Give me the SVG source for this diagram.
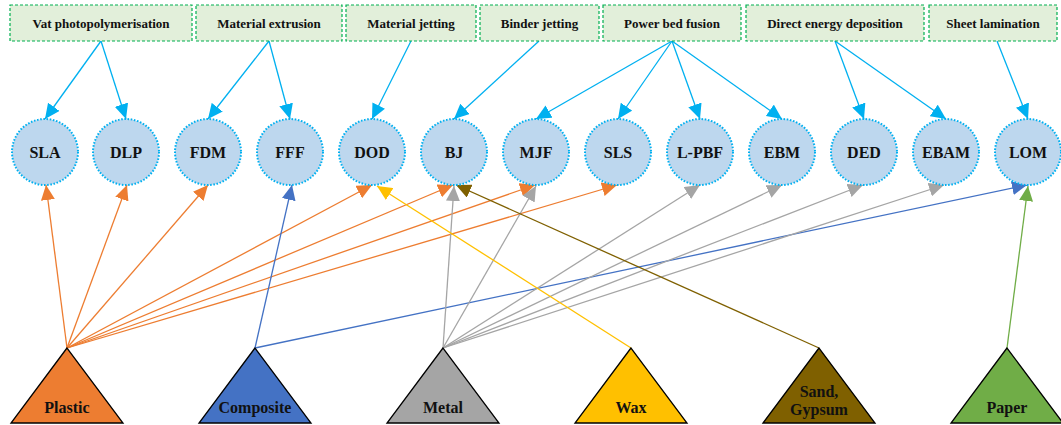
<svg xmlns="http://www.w3.org/2000/svg" width="1061" height="425" viewBox="0 0 1061 425">
<style>
.box{fill:#E2EFDA;stroke:#00B050;stroke-width:1.2;stroke-dasharray:3 2}
.bt{font-family:"Liberation Serif",serif;font-weight:bold;font-size:13px;text-anchor:middle;fill:#111}
.circ{fill:#BDD7EE;stroke:#00B0F0;stroke-width:2;stroke-dasharray:1.6 1.6}
.ct{font-family:"Liberation Serif",serif;font-weight:bold;font-size:16px;text-anchor:middle;fill:#111}
.tri{stroke:#000;stroke-width:1.3;stroke-linejoin:miter}
.tt{font-family:"Liberation Serif",serif;font-weight:bold;font-size:16px;text-anchor:middle;fill:#111}
.c{fill:none;stroke-width:1.3}
.cy{stroke:#00B0F0;marker-end:url(#mcy)}
.or{stroke:#ED7D31;marker-end:url(#mor)}
.bl{stroke:#4472C4;marker-end:url(#mbl)}
.gr{stroke:#A5A5A5;marker-end:url(#mgr)}
.ye{stroke:#FFC000;marker-end:url(#mye)}
.br{stroke:#7F6000;marker-end:url(#mbr)}
.gn{stroke:#70AD47;marker-end:url(#mgn)}
</style>
<defs>
<marker id="mcy" markerUnits="userSpaceOnUse" markerWidth="16" markerHeight="14" refX="15" refY="7" orient="auto"><path d="M0,0 L15,7 L0,14 z" fill="#00B0F0"/></marker>
<marker id="mor" markerUnits="userSpaceOnUse" markerWidth="16" markerHeight="14" refX="15" refY="7" orient="auto"><path d="M0,0 L15,7 L0,14 z" fill="#ED7D31"/></marker>
<marker id="mbl" markerUnits="userSpaceOnUse" markerWidth="16" markerHeight="14" refX="15" refY="7" orient="auto"><path d="M0,0 L15,7 L0,14 z" fill="#4472C4"/></marker>
<marker id="mgr" markerUnits="userSpaceOnUse" markerWidth="16" markerHeight="14" refX="15" refY="7" orient="auto"><path d="M0,0 L15,7 L0,14 z" fill="#A5A5A5"/></marker>
<marker id="mye" markerUnits="userSpaceOnUse" markerWidth="16" markerHeight="14" refX="15" refY="7" orient="auto"><path d="M0,0 L15,7 L0,14 z" fill="#FFC000"/></marker>
<marker id="mbr" markerUnits="userSpaceOnUse" markerWidth="16" markerHeight="14" refX="15" refY="7" orient="auto"><path d="M0,0 L15,7 L0,14 z" fill="#7F6000"/></marker>
<marker id="mgn" markerUnits="userSpaceOnUse" markerWidth="16" markerHeight="14" refX="15" refY="7" orient="auto"><path d="M0,0 L15,7 L0,14 z" fill="#70AD47"/></marker>
</defs>
<rect width="1061" height="425" fill="#fff"/>
<g id="connectors">
<line class="c cy" x1="101" y1="41" x2="45" y2="119"/>
<line class="c cy" x1="101" y1="41" x2="126" y2="119"/>
<line class="c cy" x1="269" y1="41" x2="208" y2="119"/>
<line class="c cy" x1="269" y1="41" x2="290" y2="119"/>
<line class="c cy" x1="411" y1="41" x2="372" y2="119"/>
<line class="c cy" x1="539" y1="41" x2="454" y2="119"/>
<line class="c cy" x1="672" y1="41" x2="536" y2="119"/>
<line class="c cy" x1="672" y1="41" x2="618" y2="119"/>
<line class="c cy" x1="672" y1="41" x2="700" y2="119"/>
<line class="c cy" x1="672" y1="41" x2="782" y2="119"/>
<line class="c cy" x1="835" y1="41" x2="864" y2="119"/>
<line class="c cy" x1="835" y1="41" x2="946" y2="119"/>
<line class="c cy" x1="997" y1="41" x2="1028" y2="119"/>
<line class="c or" x1="67" y1="348" x2="46" y2="185"/>
<line class="c or" x1="67" y1="348" x2="127" y2="185"/>
<line class="c or" x1="67" y1="348" x2="208" y2="185"/>
<line class="c or" x1="67" y1="348" x2="372" y2="185"/>
<line class="c or" x1="67" y1="348" x2="453" y2="185"/>
<line class="c or" x1="67" y1="348" x2="535" y2="185"/>
<line class="c or" x1="67" y1="348" x2="617" y2="185"/>
<line class="c bl" x1="255" y1="348" x2="292" y2="185"/>
<line class="c bl" x1="255" y1="348" x2="1027" y2="185"/>
<line class="c gr" x1="443" y1="348" x2="454" y2="186"/>
<line class="c gr" x1="443" y1="348" x2="536" y2="186"/>
<line class="c gr" x1="443" y1="348" x2="700" y2="185"/>
<line class="c gr" x1="443" y1="348" x2="782" y2="185"/>
<line class="c gr" x1="443" y1="348" x2="863" y2="185"/>
<line class="c gr" x1="443" y1="348" x2="944" y2="185"/>
<line class="c ye" x1="631" y1="348" x2="377" y2="186"/>
<line class="c br" x1="819" y1="348" x2="456" y2="185"/>
<line class="c gn" x1="1007" y1="348" x2="1028" y2="186"/>
</g>
<g id="vat"><rect class="box" x="10" y="5" width="182" height="36"/><text class="bt" x="101" y="28">Vat photopolymerisation</text></g>
<g id="extrusion"><rect class="box" x="196" y="5" width="146" height="36"/><text class="bt" x="269" y="28">Material extrusion</text></g>
<g id="jetting"><rect class="box" x="346" y="5" width="130" height="36"/><text class="bt" x="411" y="28">Material jetting</text></g>
<g id="binder"><rect class="box" x="480" y="5" width="119" height="36"/><text class="bt" x="539.5" y="28">Binder jetting</text></g>
<g id="powder"><rect class="box" x="603" y="5" width="138" height="36"/><text class="bt" x="672" y="28">Power bed fusion</text></g>
<g id="ded-box"><rect class="box" x="746" y="5" width="178" height="36"/><text class="bt" x="835" y="28">Direct energy deposition</text></g>
<g id="sheet"><rect class="box" x="929" y="5" width="128" height="36"/><text class="bt" x="993" y="28">Sheet lamination</text></g>
<g id="SLA"><circle class="circ" cx="45" cy="152" r="33"/><text class="ct" x="45" y="158">SLA</text></g>
<g id="DLP"><circle class="circ" cx="126" cy="152" r="33"/><text class="ct" x="126" y="158">DLP</text></g>
<g id="FDM"><circle class="circ" cx="208" cy="152" r="33"/><text class="ct" x="208" y="158">FDM</text></g>
<g id="FFF"><circle class="circ" cx="290" cy="152" r="33"/><text class="ct" x="290" y="158">FFF</text></g>
<g id="DOD"><circle class="circ" cx="372" cy="152" r="33"/><text class="ct" x="372" y="158">DOD</text></g>
<g id="BJ"><circle class="circ" cx="454" cy="152" r="33"/><text class="ct" x="454" y="158">BJ</text></g>
<g id="MJF"><circle class="circ" cx="536" cy="152" r="33"/><text class="ct" x="536" y="158">MJF</text></g>
<g id="SLS"><circle class="circ" cx="618" cy="152" r="33"/><text class="ct" x="618" y="158">SLS</text></g>
<g id="LPBF"><circle class="circ" cx="700" cy="152" r="33"/><text class="ct" x="700" y="158">L-PBF</text></g>
<g id="EBM"><circle class="circ" cx="782" cy="152" r="33"/><text class="ct" x="782" y="158">EBM</text></g>
<g id="DED"><circle class="circ" cx="864" cy="152" r="33"/><text class="ct" x="864" y="158">DED</text></g>
<g id="EBAM"><circle class="circ" cx="946" cy="152" r="33"/><text class="ct" x="946" y="158">EBAM</text></g>
<g id="LOM"><circle class="circ" cx="1028" cy="152" r="33"/><text class="ct" x="1028" y="158">LOM</text></g>
<g id="plastic"><polygon class="tri" fill="#ED7D31" points="67,348 11,423 123,423"/><text class="tt" x="67" y="413">Plastic</text></g>
<g id="composite"><polygon class="tri" fill="#4472C4" points="255,348 199,423 311,423"/><text class="tt" x="255" y="413">Composite</text></g>
<g id="metal"><polygon class="tri" fill="#A5A5A5" points="443,348 387,423 499,423"/><text class="tt" x="443" y="413">Metal</text></g>
<g id="wax"><polygon class="tri" fill="#FFC000" points="631,348 575,423 687,423"/><text class="tt" x="631" y="413">Wax</text></g>
<g id="sand"><polygon class="tri" fill="#7F6000" points="819,348 763,423 875,423"/><text class="tt" x="819" y="397">Sand,</text><text class="tt" x="819" y="415">Gypsum</text></g>
<g id="paper"><polygon class="tri" fill="#70AD47" points="1007,348 951,423 1063,423"/><text class="tt" x="1007" y="413">Paper</text></g>
</svg>
